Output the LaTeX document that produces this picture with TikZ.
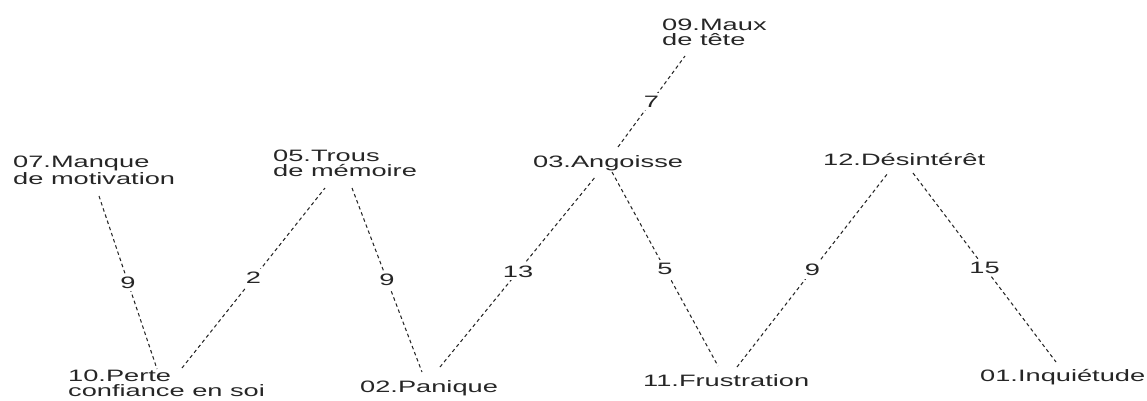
\documentclass[tikz,border=0pt]{standalone}
\usepackage{fontspec}
\setmainfont[FakeStretch=1.65]{Liberation Sans}
\begin{document}
\begin{tikzpicture}[x=1pt,y=-1pt,
  concept/.style={anchor=base west, inner sep=0pt, align=left, text=black!85,
    font=\fontsize{16.5}{15}\selectfont},
  link/.style={draw=black!85, line width=1.05pt, dash pattern=on 3.5pt off 3pt},
  weight/.style={fill=white, inner sep=3pt, text=black!85,
    font=\fontsize{16.5}{16}\selectfont}]
\useasboundingbox (0,0) rectangle (1147,400);

% concept labels (two-line ones are placed by the baseline of their last line)
\node[concept] (t07) at (13,184)  {07.Manque\\de motivation};
\node[concept] (t05) at (273,176) {05.Trous\\de mémoire};
\node[concept] (t09) at (662,45)  {09.Maux\\de tête};
\node[concept] (t03) at (533,167) {03.Angoisse};
\node[concept] (t12) at (823,165) {12.Désintérêt};
\node[concept] (t10) at (68,396)  {10.Perte\\confiance en soi};
\node[concept] (t02) at (360,392) {02.Panique};
\node[concept] (t11) at (643,386) {11.Frustration};
\node[concept] (t01) at (980,381) {01.Inquiétude};

% line ends next to each label
\coordinate (p07)  at (99,196);
\coordinate (p10a) at (157,369);
\coordinate (p10b) at (182,368);
\coordinate (p05a) at (325,188);
\coordinate (p05b) at (352,188);
\coordinate (p02a) at (422,372);
\coordinate (p02b) at (440,367);
\coordinate (p03a) at (596,176);
\coordinate (p03b) at (618,147);
\coordinate (p03c) at (612,172);
\coordinate (p09)  at (685,56);
\coordinate (p11a) at (718,366);
\coordinate (p11b) at (737,367);
\coordinate (p12a) at (888,173);
\coordinate (p12b) at (913,173);
\coordinate (p01)  at (1056,362);

% weighted links
\draw[link] (p07)  -- node[weight] {9}  (p10a);
\draw[link] (p10b) -- node[weight] {2}  (p05a);
\draw[link] (p05b) -- node[weight] {9}  (p02a);
\draw[link] (p02b) -- node[weight] {13} (p03a);
\draw[link] (p03b) -- node[weight] {7}  (p09);
\draw[link] (p03c) -- node[weight] {5}  (p11a);
\draw[link] (p11b) -- node[weight] {9}  (p12a);
\draw[link] (p12b) -- node[weight] {15} (p01);
\end{tikzpicture}
\end{document}
